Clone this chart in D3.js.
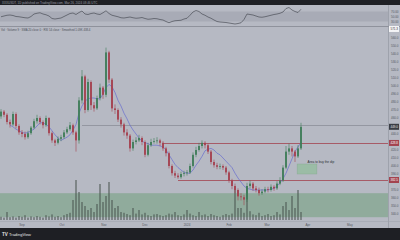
<!DOCTYPE html>
<html>
<head>
<meta charset="utf-8">
<script src="https://cdn.jsdelivr.net/npm/d3@7"></script>
<style>
body{margin:0;background:#1e1f24;}
svg{display:block;font-family:"Liberation Sans",Arial,sans-serif;}
</style>
</head>
<body>
<script>
const W = 400, H = 240;

// candles (one every slot)
const opens  = [462,468,464,455,452,465,450,442,440,436,441,448,456,460,455,451,460,441,432,429,434,436,442,446,451,442,432,482,512,470,505,476,472,485,498,489,542,508,472,470,458,452,442,438,422,430,432,435,430,414,426,430,431,432,429,422,416,400,391,388,386,390,391,392,400,414,420,425,429,426,418,405,401,399,400,398,392,382,375,370,362,361,358,375,378,372,370,366,368,371,370,374,372,378,382,398,418,422,418,412,422];
const highs  = [471,470,466,458,468,467,452,445,443,444,450,459,464,462,457,463,461,443,434,437,439,445,449,455,453,444,486,520,514,509,507,480,488,503,500,548,544,510,477,472,461,454,446,440,433,436,439,437,432,429,434,435,436,434,431,424,418,402,394,391,393,394,395,403,417,424,429,432,431,428,420,408,404,403,402,400,394,384,378,372,366,364,379,382,380,375,373,371,374,374,377,376,381,386,401,425,428,425,420,426,454];
const lows   = [459,461,452,448,450,447,439,436,433,434,439,446,453,452,447,449,438,429,425,427,431,434,440,444,439,418,428,478,466,468,470,468,470,482,484,486,504,468,465,455,448,438,434,418,419,427,430,426,411,412,424,428,428,425,419,412,397,388,385,384,384,387,388,390,398,411,418,422,422,415,402,398,396,396,395,389,379,371,366,357,357,351,355,372,369,367,363,364,366,367,368,369,370,376,380,396,414,412,405,410,420];
const closes = [468,464,455,452,465,450,442,440,436,441,448,456,460,455,451,460,441,432,429,434,436,442,446,451,442,432,482,512,470,505,476,472,485,498,489,542,508,472,470,458,452,442,438,422,430,432,435,430,414,426,430,431,432,429,422,416,400,391,388,386,390,391,392,400,414,420,425,429,426,418,405,401,399,400,398,392,382,375,370,362,361,358,375,378,372,370,366,368,371,370,374,372,378,382,398,418,422,418,412,422,449];
const maLine = [null,null,null,451,449,446,444,442,441,442,444,446,450,454,454,452,449,444,439,435,432,434,436,439,445,452,466,475,481,484,485,485,484,484,490,498,502,499,492,482,475,466,459,451,445,440,435,431,429,428,426,426,426,425,424,420,414,408,402,398,395,392,391,391,395,401,406,412,419,421,422,420,416,414,410,406,402,398,391,385,380,375,372,371,370,370,370,370,370,370,371,372,375,379,384,391,400,409,418,424,429];
const volumes = [8,6,20,7,9,6,10,8,12,6,9,7,10,8,6,12,9,14,8,10,7,12,15,18,50,100,70,45,35,25,30,20,40,90,45,60,95,50,30,35,20,18,15,12,30,16,25,14,18,12,10,14,15,12,10,12,16,14,20,12,10,14,25,16,12,10,20,12,14,10,15,12,10,8,12,15,12,16,75,30,30,18,85,22,14,12,18,10,12,15,10,12,20,14,35,45,25,60,30,75,20];
const rsi = [49,52,55,56,54,50,49,47,45,44,50,60,63,65,60,57,52,42,40,42,44,50,56,62,64,58,66,72,60,58,62,64,60,58,65,73,62,55,52,49,45,44,46,48,45,43,44,46,42,39,40,42,41,38,36,30,25,30,33,34,35,40,43,55,68,74,70,60,55,48,43,36,30,28,27,26,24,22,20,22,25,38,60,58,56,52,48,47,49,52,55,58,60,63,68,82,86,76,70,66,79];

// axes
const priceTicks = [560,550,540,530,520,510,500,490,480,470,460,450,440,430,420,410,400,390,380,370,360,350,340];
const rsiTicks = [70,50,30];
const timeTicks = [7,20.3,34.3,48,62,76,88.7,102.3,116.3];
const timeLabels = ['Sep','Oct','Nov','Dec','2024','Feb','Mar','Apr','May'];

// drawings
const levels = [{price:451, from:27, color:'#8c8e98'}, {price:428.8, from:54, color:'#a3434f'}, {price:382.5, from:59, color:'#a3434f'}];
const zone = {top:366, bottom:336};
const dipBox = {x0:98.7, x1:105.3, top:402.5, bottom:390, label:'Area to buy the dip'};

const plotR = 388;
const x = d3.scaleLinear().domain([0,100]).range([1,301]);
const y = d3.scaleLinear().domain([360,560]).range([198,38]);
const yv = d3.scaleLinear().domain([0,100]).range([220,180]);
const yr = d3.scaleLinear().domain([30,70]).range([21.5,11.5]);

const svg = d3.select('body').append('svg').attr('width',W).attr('height',H);

// backgrounds
svg.append('rect').attr('width',W).attr('height',H).attr('fill','#b6b9c3');
svg.append('rect').attr('width',W).attr('height',5).attr('fill','#1e1f24');
svg.append('rect').attr('y',228).attr('width',W).attr('height',12).attr('fill','#1e1f24');
svg.append('text').attr('x',2).attr('y',3.6).attr('font-size',3).attr('fill','#9a9ca4')
  .text('XXXUSDT, 1D  published on TradingView.com, Mar 26, 2024 08:46 UTC');

// rsi pane
svg.append('rect').attr('x',0).attr('y',yr(70)).attr('width',plotR).attr('height',yr(30)-yr(70)).attr('fill','#a8abb6');
svg.append('path')
  .attr('d', d3.line().x((d,i)=>x(i)).y(d=>yr(d))(rsi))
  .attr('fill','none').attr('stroke','#3b3e47').attr('stroke-width',0.6);
svg.append('line').attr('x1',0).attr('x2',W).attr('y1',26.5).attr('y2',26.5).attr('stroke','#8f929c').attr('stroke-width',1);
svg.selectAll('.rt').data(rsiTicks).enter().append('text')
  .attr('x',391).attr('y',d=>yr(d)+1.2).attr('font-size',3).attr('fill','#555862')
  .text(d=>d3.format('.2f')(d));

// legend
svg.append('text').attr('x',1).attr('y',30.5).attr('font-size',2.8).attr('fill','#4d5059')
  .text('Vol · Volume 9  ·  SMA 20 close 0  ·  RSI 14 close  ·  Smoothed 1.09K  438.4');

// zone
svg.append('rect').attr('x',0).attr('width',plotR)
  .attr('y',y(zone.top)).attr('height',y(zone.bottom)-y(zone.top))
  .attr('fill','#90ab9c');

// volumes
svg.selectAll('.vol').data(volumes).enter().append('rect')
  .attr('x',(d,i)=>x(i)-1).attr('width',2)
  .attr('y',d=>yv(d)).attr('height',d=>yv(0)-yv(d))
  .attr('fill','#46524c').attr('fill-opacity',0.5);

// levels
svg.selectAll('.lvl').data(levels).enter().append('line')
  .attr('x1',d=>x(d.from)).attr('x2',plotR)
  .attr('y1',d=>Math.round(y(d.price))+0.5).attr('y2',d=>Math.round(y(d.price))+0.5)
  .attr('stroke',d=>d.color).attr('stroke-width',0.8);

// dip box
svg.append('rect').attr('x',x(dipBox.x0)).attr('width',x(dipBox.x1)-x(dipBox.x0))
  .attr('y',y(dipBox.top)).attr('height',y(dipBox.bottom)-y(dipBox.top))
  .attr('fill','#9bbca6').attr('stroke','#86a891').attr('stroke-width',0.4);
svg.append('text').attr('x',x(dipBox.x1)+4).attr('y',y(dipBox.top)-1.5)
  .attr('text-anchor','middle').attr('font-size',3.2).attr('fill','#2b2d33').text(dipBox.label);

// moving average
svg.append('path')
  .attr('d', d3.line().defined(d=>d!=null).x((d,i)=>x(i)).y(d=>y(d))(maLine))
  .attr('fill','none').attr('stroke','#5a5fd0').attr('stroke-width',0.6);

// candles
const g = svg.append('g');
closes.forEach((c,i)=>{
  const up = c >= opens[i];
  const col = up ? '#3f7d58' : '#a5404e';
  g.append('line').attr('x1',x(i)).attr('x2',x(i)).attr('y1',y(highs[i])).attr('y2',y(lows[i]))
    .attr('stroke',col).attr('stroke-width',0.6);
  g.append('rect').attr('x',x(i)-0.9).attr('width',1.8)
    .attr('y',y(Math.max(c,opens[i]))).attr('height',Math.max(0.6,Math.abs(y(c)-y(opens[i]))))
    .attr('fill',col);
});

// price axis
const tags = [
  {price:571.3, bg:'#f4f4f6', fg:'#333'},
  {price:closes[closes.length-1], bg:'#3a3d44', fg:'#e8e8ea'},
  {price:levels[1].price, bg:'#a3434f', fg:'#fff'},
  {price:levels[2].price, bg:'#a3434f', fg:'#fff'}
];
svg.append('line').attr('x1',plotR+0.5).attr('x2',plotR+0.5).attr('y1',5).attr('y2',228).attr('stroke','#8f929c').attr('stroke-width',0.6);
svg.selectAll('.pt').data(priceTicks.filter(p=>tags.every(t=>Math.abs(y(t.price)-y(p))>5))).enter().append('text')
  .attr('x',391).attr('y',d=>y(d)+1.1).attr('font-size',3).attr('fill','#555862')
  .text(d=>d3.format('.1f')(d));

tags.forEach(t=>{
  const ty = y(t.price);
  svg.append('rect').attr('x',389).attr('y',ty-3).attr('width',10).attr('height',6).attr('fill',t.bg);
  svg.append('text').attr('x',390.5).attr('y',ty+1.1).attr('font-size',3).attr('fill',t.fg).text(d3.format('.1f')(t.price));
});

// time axis
svg.append('line').attr('x1',0).attr('x2',W).attr('y1',221.5).attr('y2',221.5).attr('stroke','#9da0aa').attr('stroke-width',0.5);
svg.selectAll('.tt').data(timeTicks).enter().append('text')
  .attr('x',d=>x(d)).attr('y',226).attr('text-anchor','middle')
  .attr('font-size',3).attr('fill','#555862')
  .text((d,i)=>timeLabels[i]);

// footer logo
svg.append('text').attr('x',2).attr('y',235.5).attr('font-size',4.5).attr('font-weight','bold').attr('fill','#e6e6e8').text('TV');
svg.append('text').attr('x',9).attr('y',235.5).attr('font-size',4).attr('fill','#e6e6e8').text('TradingView');
</script>
</body>
</html>
